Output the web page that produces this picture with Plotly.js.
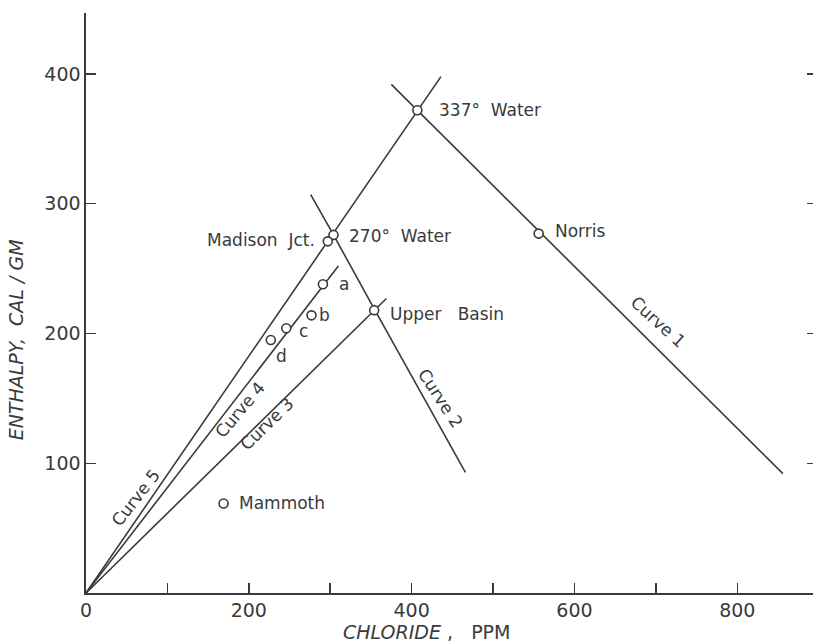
<!DOCTYPE html>
<html>
<head>
<meta charset="utf-8">
<script src="https://cdn.plot.ly/plotly-3.0.1.min.js"></script>
<style>html,body{margin:0;padding:0;background:#fff;}#chart{width:813px;height:644px;}</style>
</head>
<body>
<div id="chart"></div>
<script>
// Curves (chloride ppm, enthalpy cal/gm)
const curve1X = [375, 407, 556, 856];
const curve1Y = [392, 372, 279, 92];
const curve2X = [276, 304, 354, 466];
const curve2Y = [307, 276, 219, 93];
const curve3X = [0, 354, 369];
const curve3Y = [0, 218, 227];
const curve4X = [0, 310];
const curve4Y = [0, 252];
const curve5X = [0, 297, 407, 436];
const curve5Y = [0, 271, 372, 398];

// Sample points
const pointNames = ["337° Water", "270° Water", "Madison Jct.", "a", "b", "c", "d", "Upper Basin", "Norris", "Mammoth"];
const pointX = [407, 304, 297, 291, 277, 246, 227, 354, 556, 169];
const pointY = [372, 276, 271, 238, 214, 204, 195, 218, 277, 69];

// Point labels
const labelText = ["337°&nbsp;&nbsp;Water", "270°&nbsp;&nbsp;Water", "Madison&nbsp;&nbsp;Jct.", "a", "b", "c", "d", "Upper&nbsp;&nbsp;&nbsp;Basin", "Norris", "Mammoth"];
const labelX = [431, 320, 284, 308, 284, 259, 240, 371, 574, 186];
const labelY = [372, 275, 272, 238, 214, 202, 183, 215, 279, 69];
const labelAnchor = ["left", "left", "right", "left", "left", "left", "center", "left", "left", "left"];

// Curve labels
const curveNames = ["Curve 1", "Curve 2", "Curve 3", "Curve 4", "Curve 5"];
const curveLabelX = [703, 435, 222, 189, 61];
const curveLabelY = [209, 150, 130, 141, 73];
const curveLabelAngle = [42, 57, -44, -50, -52];

// Axis ticks
const xTickVals = [0, 100, 200, 300, 400, 500, 600, 700, 800];
const xTickText = ["0", "", "200", "", "400", "", "600", "", "800"];
const yTickVals = [100, 200, 300, 400];
const yTickText = ["100", "200", "300", "400"];

const ink = "#3a3a3a";
const fontFam = "DejaVu Sans, sans-serif";

function lineTrace(x, y) {
  return {x: x, y: y, type: "scatter", mode: "lines", line: {color: ink, width: 1.6}, hoverinfo: "skip", showlegend: false};
}

const traces = [
  lineTrace(curve1X, curve1Y),
  lineTrace(curve2X, curve2Y),
  lineTrace(curve3X, curve3Y),
  lineTrace(curve4X, curve4Y),
  lineTrace(curve5X, curve5Y),
  {x: pointX, y: pointY, text: pointNames, type: "scatter", mode: "markers",
   marker: {symbol: "circle", size: 9, color: "#ffffff", line: {color: ink, width: 1.6}},
   showlegend: false, hoverinfo: "text"},
  // invisible trace to draw the right-side tick marks
  {x: [0], y: [0], yaxis: "y2", type: "scatter", mode: "markers", marker: {opacity: 0}, showlegend: false, hoverinfo: "skip"}
];

const annotations = [];
for (let i = 0; i < labelText.length; i++) {
  annotations.push({x: labelX[i], y: labelY[i], text: labelText[i], showarrow: false,
    xanchor: labelAnchor[i], yanchor: "middle", font: {family: fontFam, size: 17, color: ink}});
}
for (let i = 0; i < curveNames.length; i++) {
  annotations.push({x: curveLabelX[i], y: curveLabelY[i], text: curveNames[i], showarrow: false,
    textangle: curveLabelAngle[i], xanchor: "center", yanchor: "middle",
    font: {family: fontFam, size: 17, color: ink}});
}
annotations.push({xref: "paper", yref: "paper", x: 0.468, y: -0.068, text: "<i>CHLORIDE</i> ,&nbsp;&nbsp;&nbsp;PPM",
  showarrow: false, xanchor: "center", yanchor: "middle", font: {family: fontFam, size: 19, color: ink}});
annotations.push({xref: "paper", yref: "paper", x: -0.096, y: 0.436, text: "<i>ENTHALPY,&nbsp;&nbsp;CAL&nbsp;/&nbsp;GM</i>",
  showarrow: false, textangle: -90, xanchor: "center", yanchor: "middle", font: {family: fontFam, size: 19, color: ink}});

const layout = {
  width: 813, height: 644,
  margin: {l: 86, r: 0, t: 13, b: 51},
  paper_bgcolor: "#ffffff", plot_bgcolor: "#ffffff",
  showlegend: false,
  xaxis: {range: [0, 893], tickvals: xTickVals, ticktext: xTickText, ticks: "inside", ticklen: 10,
    tickwidth: 1.5, tickcolor: ink, showline: true, linecolor: ink, linewidth: 1.6, showgrid: false, zeroline: false,
    tickfont: {family: fontFam, size: 19, color: ink}},
  yaxis: {range: [0, 447], tickvals: yTickVals, ticktext: yTickText, ticks: "inside", ticklen: 10,
    tickwidth: 1.5, tickcolor: ink, showline: true, linecolor: ink, linewidth: 1.6, showgrid: false, zeroline: false,
    tickfont: {family: fontFam, size: 19, color: ink}},
  yaxis2: {range: [0, 447], overlaying: "y", side: "right", tickvals: yTickVals, ticks: "inside", ticklen: 6,
    tickwidth: 1.5, tickcolor: ink, showticklabels: false, showline: false, showgrid: false, zeroline: false},
  annotations: annotations
};

Plotly.newPlot("chart", traces, layout, {staticPlot: true, displayModeBar: false});
</script>
</body>
</html>
